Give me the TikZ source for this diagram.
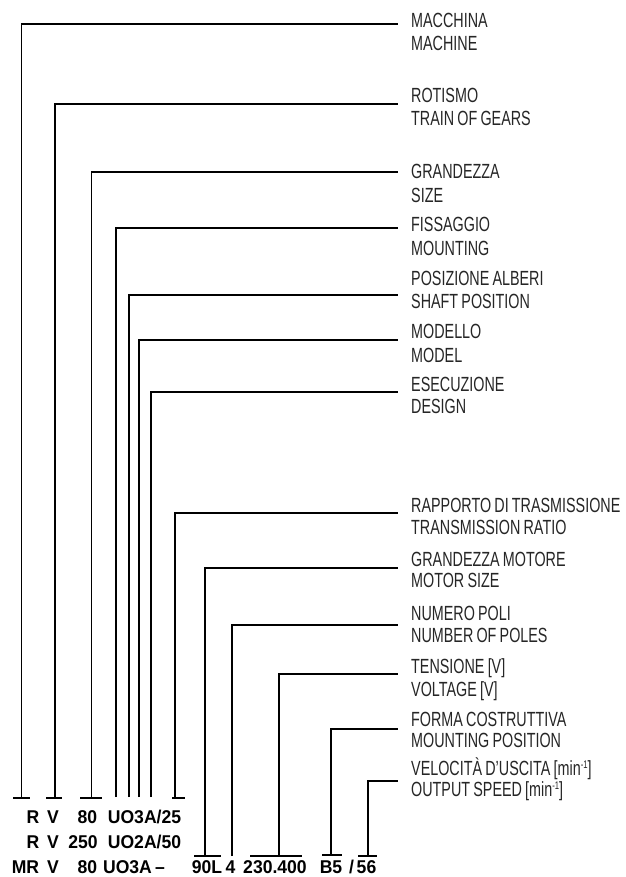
\documentclass[tikz,border=0pt]{standalone}
\usepackage{fontspec}
\setmainfont{Liberation Sans}
\newfontfamily\labfont[FakeStretch=0.7,WordSpace=0.8]{Liberation Sans}
\newfontfamily\codefont[FakeStretch=0.95]{Liberation Sans}
\newcommand{\minsup}{\raisebox{0.62ex}{\fontsize{11}{11}\selectfont -1}}
\tikzset{
  lab/.style={anchor=base west, inner sep=0pt, font=\labfont\fontsize{20.5}{20.5}\selectfont, text=black!85},
  code/.style={anchor=base, inner sep=0pt, font=\codefont\bfseries\fontsize{18.5}{18.5}\selectfont},
  conn/.style={line width=1.8pt},
}
\begin{document}
\begin{tikzpicture}[x=1pt,y=-1pt]
\useasboundingbox[fill=white] (0,0) rectangle (625,877);
% labels and connectors
\foreach \i/\vx/\ly/\fy/\ba/\bb/\ta/\tb in {
 1/21.5/24/798/28/51/{MACCHINA}/{MACHINE},
 2/55/104/798/103/126/{ROTISMO}/{TRAIN OF GEARS},
 3/91.5/172/798/179/203/{GRANDEZZA}/{SIZE},
 4/116/228/797/232/255/{FISSAGGIO}/{MOUNTING},
 5/129/295/797/285/308/{POSIZIONE ALBERI}/{SHAFT POSITION},
 6/139/340/797/338/362/{MODELLO}/{MODEL},
 7/151/392/797/391/413/{ESECUZIONE}/{DESIGN},
 8/175/513/798/512/534/{RAPPORTO DI TRASMISSIONE}/{TRANSMISSION RATIO},
 9/205/568/856/566/587/{GRANDEZZA MOTORE}/{MOTOR SIZE},
 10/232/625/856/620/642/{NUMERO POLI}/{NUMBER OF POLES},
 11/279/674/856/673/696/{TENSIONE [V]}/{VOLTAGE [V]},
 12/331/729/855/726/747/{FORMA COSTRUTTIVA}/{MOUNTING POSITION},
 13/368/781/856/775/796/{VELOCITÀ D’USCITA [min\minsup]}/{OUTPUT SPEED [min\minsup]}}{
  \node[lab] (la\i) at (411,\ba) {\ta};
  \node[lab] (lb\i) at (411,\bb) {\tb};
  \coordinate (e\i) at (398,\ly);
  \coordinate (f\i) at (\vx,\fy);
  \draw[conn] (f\i) |- (e\i);
}
% ticks
\foreach \i/\a/\b/\y in {1/13/30/798, 2/46/62/798, 3/80/102/798, 8/172/185/798,
  9/194/221/856, 11/250/302/856, 12/322/342/855, 13/358/377/856}{
  \coordinate (ta\i) at (\a,\y);
  \coordinate (tb\i) at (\b,\y);
  \draw[conn] (ta\i) -- (tb\i);
}
% code rows
\node[code] (c1a) at (33,823) {R};
\node[code] (c1b) at (53,823) {V};
\node[code] (c1c) at (87.5,823) {80};
\node[code] (c1d) at (144.5,823) {UO3A/25};
\node[code] (c2a) at (33,848) {R};
\node[code] (c2b) at (53,848) {V};
\node[code] (c2c) at (83,848) {250};
\node[code] (c2d) at (144.5,848) {UO2A/50};
\node[code] (c3a) at (25.5,873) {MR};
\node[code] (c3b) at (53,873) {V};
\node[code] (c3c) at (87.5,873) {80};
\node[code] (c3d) at (127.5,873) {UO3A};
\node[code] (c3e) at (160,873) {–};
\node[code] (c3f) at (207,873) {90L};
\node[code] (c3g) at (230.5,873) {4};
\node[code] (c3h) at (275,873) {230.400};
\node[code] (c3i) at (331,873) {B5};
\node[code] (c3j) at (351.5,873) {/};
\node[code] (c3k) at (366.5,873) {56};
\end{tikzpicture}
\end{document}
